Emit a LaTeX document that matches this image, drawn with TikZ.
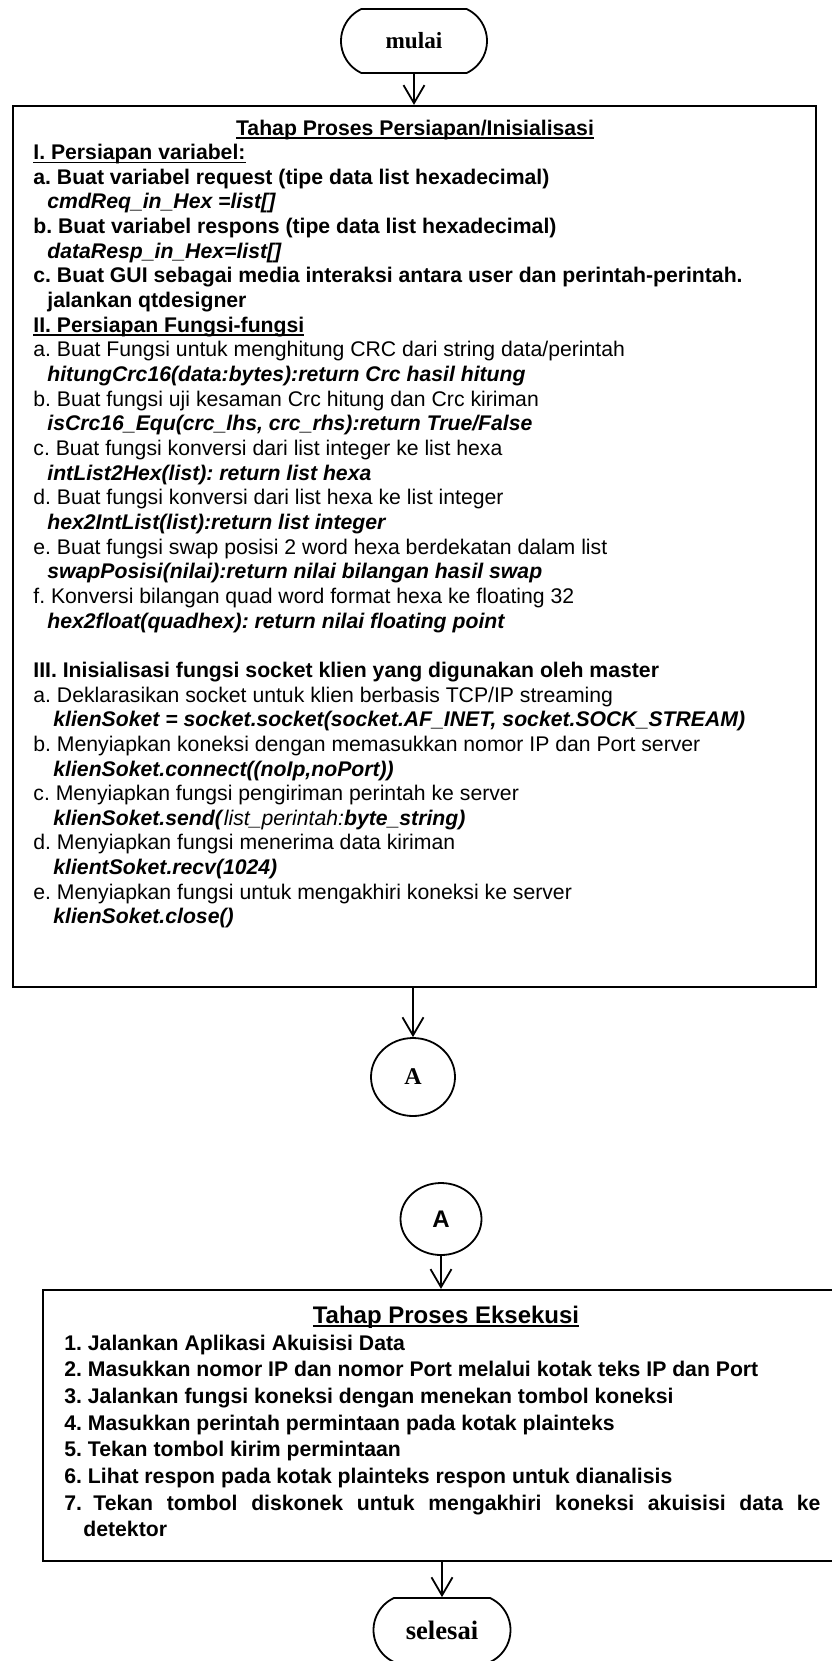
\documentclass[tikz,border=0pt]{standalone}
\usepackage{fontspec}
\setmainfont{Liberation Serif}
\setsansfont{Liberation Sans}
\usepackage{tikz}
\usetikzlibrary{shapes.geometric, shapes.misc, arrows.meta, positioning}
\newcommand{\garis}[1]{\setbox0\hbox{#1}\rlap{\rule[-1.8pt]{\wd0}{0.75pt}}\box0}
\frenchspacing

\begin{document}
\begin{tikzpicture}[
  x=0.5pt, y=-0.5pt,
  terminal/.style={rounded rectangle, rounded rectangle arc length=130, draw, line width=0.9pt, inner sep=0, minimum height=32pt},
  procbox/.style={rectangle, draw, line width=1.1pt, inner sep=0},
  connector/.style={ellipse, draw, line width=0.9pt, inner sep=0},
  flow/.style={draw, line width=0.9pt, -{Straight Barb[length=9pt, width=10.5pt, line width=0.9pt]}},
  boxtitle/.style={anchor=base, inner sep=0, font=\sffamily\bfseries\fontsize{10.6}{12.33}\selectfont},
  bodytext/.style={anchor=base west, inner sep=0, font=\sffamily\fontsize{10.6}{12.33}\selectfont}
]
\useasboundingbox (0,0) rectangle (831,1661);

\node[terminal, minimum width=73pt, font=\bfseries\fontsize{11.6}{14}\selectfont] (mulai) at (414,41) {mulai};
\node[procbox, minimum width=401.5pt, minimum height=440.5pt] (prep) at (414.5,546.5) {};
\node[connector, minimum width=42pt, minimum height=39pt, font=\bfseries\fontsize{12}{14}\selectfont] (A1) at (413,1077) {A};
\node[connector, minimum width=40.5pt, minimum height=36pt, font=\sffamily\bfseries\fontsize{12}{14}\selectfont] (A2) at (441,1219) {A};
\node[procbox, minimum width=396.5pt, minimum height=135.5pt] (exec) at (439.5,1425.5) {};
\node[terminal, minimum width=68.5pt, font=\bfseries\fontsize{13.3}{15}\selectfont] (selesai) at (442,1630) {selesai};

% isi kotak persiapan
\node[boxtitle] (prepTitle) at (415,135) {\garis{Tahap Proses Persiapan/Inisialisasi}};
\node[bodytext] (prepBody) at (33,159.5) {\parbox[t]{400pt}{\raggedright
\textbf{\garis{I. Persiapan variabel:}}\\
\textbf{a. Buat variabel request (tipe data list hexadecimal)}\\
\hspace*{7pt}\textbf{\textit{cmdReq\_in\_Hex =list[]}}\\
\textbf{b. Buat variabel respons (tipe data list hexadecimal)}\\
\hspace*{7pt}\textbf{\textit{dataResp\_in\_Hex=list[]}}\\
\textbf{c. Buat GUI sebagai media interaksi antara user dan perintah-perintah.}\\
\hspace*{7pt}\textbf{jalankan qtdesigner}\\
\textbf{\garis{II. Persiapan Fungsi-fungsi}}\\
a. Buat Fungsi untuk menghitung CRC dari string data/perintah\\
\hspace*{7pt}\textbf{\textit{hitungCrc16(data:bytes):return Crc hasil hitung}}\\
b. Buat fungsi uji kesaman Crc hitung dan Crc kiriman\\
\hspace*{7pt}\textbf{\textit{isCrc16\_Equ(crc\_lhs, crc\_rhs):return True/False}}\\
c. Buat fungsi konversi dari list integer ke list hexa\\
\hspace*{7pt}\textbf{\textit{intList2Hex(list): return list hexa}}\\
d. Buat fungsi konversi dari list hexa ke list integer\\
\hspace*{7pt}\textbf{\textit{hex2IntList(list):return list integer}}\\
e. Buat fungsi swap posisi 2 word hexa berdekatan dalam list\\
\hspace*{7pt}\textbf{\textit{swapPosisi(nilai):return nilai bilangan hasil swap}}\\
f. Konversi bilangan quad word format hexa ke floating 32\\
\hspace*{7pt}\textbf{\textit{hex2float(quadhex): return nilai floating point}}\\[12.33pt]
\textbf{III. Inisialisasi fungsi socket klien yang digunakan oleh master}\\
a. Deklarasikan socket untuk klien berbasis TCP/IP streaming\\
\hspace*{10pt}\textbf{\textit{klienSoket = socket.socket(socket.AF\_INET, socket.SOCK\_STREAM)}}\\
b. Menyiapkan koneksi dengan memasukkan nomor IP dan Port server\\
\hspace*{10pt}\textbf{\textit{klienSoket.connect((noIp,noPort))}}\\
c. Menyiapkan fungsi pengiriman perintah ke server\\
\hspace*{10pt}\textbf{\textit{klienSoket.send(}}\textit{list\_perintah:}\textbf{\textit{byte\_string)}}\\
d. Menyiapkan fungsi menerima data kiriman\\
\hspace*{10pt}\textbf{\textit{klientSoket.recv(1024)}}\\
e. Menyiapkan fungsi untuk mengakhiri koneksi ke server\\
\hspace*{10pt}\textbf{\textit{klienSoket.close()}}}};

% isi kotak eksekusi
\node[boxtitle, font=\sffamily\bfseries\fontsize{12}{14}\selectfont] (execTitle) at (446,1323) {\garis{Tahap Proses Eksekusi}};
\node[bodytext, font=\sffamily\bfseries\fontsize{10.6}{13.35}\selectfont] (execBody) at (64,1350) {\parbox[t]{400pt}{\raggedright
1. Jalankan Aplikasi Akuisisi Data\\
2. Masukkan nomor IP dan nomor Port melalui kotak teks IP dan Port\\
3. Jalankan fungsi koneksi dengan menekan tombol koneksi\\
4. Masukkan perintah permintaan pada kotak plainteks\\
5. Tekan tombol kirim permintaan\\
6. Lihat respon pada kotak plainteks respon untuk dianalisis\\
\makebox[14.5pt][l]{7.}\makebox[363.5pt][s]{Tekan tombol diskonek untuk mengakhiri koneksi akuisisi data ke}\\
\hspace*{9.5pt}detektor}};

\draw[flow] (mulai.south) -- (mulai.south |- prep.north);
\draw[flow] (A1.north |- prep.south) -- (A1.north);
\draw[flow] (A2.south) -- (A2.south |- exec.north);
\draw[flow] (selesai.north |- exec.south) -- (selesai.north);
\end{tikzpicture}
\end{document}
